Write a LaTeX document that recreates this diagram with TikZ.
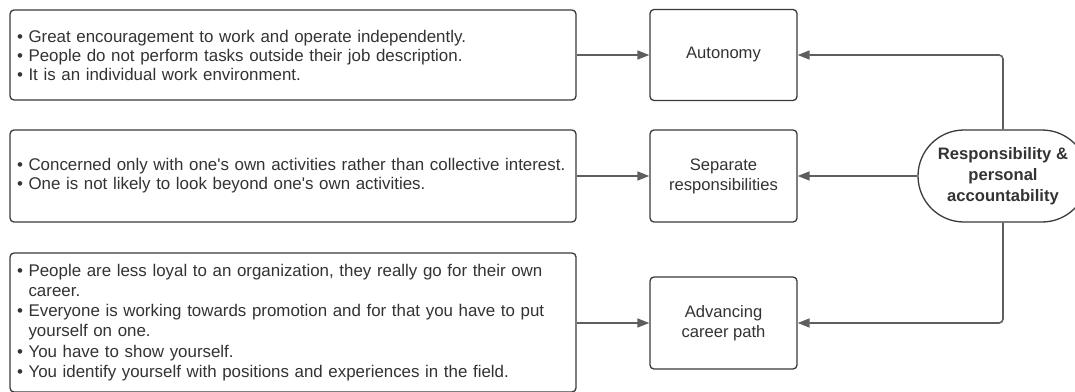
\documentclass[tikz,border=0pt]{standalone}
\usepackage{fontspec}
\setmainfont{Liberation Sans}
\usetikzlibrary{arrows.meta}
\definecolor{edge}{HTML}{3A3A3A}
\definecolor{link}{HTML}{5E5E5E}
\definecolor{ink}{HTML}{333333}
\newcommand\bul{\textbullet\ }
\newcommand\cont{\phantom{\textbullet\ }}
\newcommand\apos{\textquotesingle}
\tikzset{
  notebox/.style={draw=edge, line width=1.3pt, rounded corners=4pt, fill=white,
    minimum width=566pt, text width=552pt, inner xsep=7pt, align=left,
    font=\fontsize{16.9}{19}\selectfont, text=ink},
  topicbox/.style={draw=edge, line width=1.3pt, rounded corners=4pt, fill=white,
    minimum width=147pt, minimum height=91pt, align=center,
    font=\fontsize{16.6}{20}\selectfont, text=ink},
  hub/.style={draw=edge, line width=1.3pt, rounded corners=46pt, fill=white,
    minimum width=170pt, minimum height=92pt, align=center,
    font=\fontsize{16.6}{21}\selectfont\bfseries, text=ink},
  link/.style={draw=link, line width=1.6pt, rounded corners=4pt,
    -{Triangle[length=12pt,width=9pt]}},
}
\begin{document}
\begin{tikzpicture}[x=1pt,y=-1pt]
\useasboundingbox (0,0) rectangle (1075,391);
\clip (0,0) rectangle (1075,391);

% left-hand description boxes
\node[notebox, minimum height=90pt] (d1) at (293,55)
  {\bul Great encouragement to work and operate independently.\\
   \bul People do not perform tasks outside their job description.\\
   \bul It is an individual work environment.};
\node[notebox, minimum height=92pt] (d2) at (293,176)
  {\bul Concerned only with one\apos s own activities rather than collective interest.\\
   \bul One is not likely to look beyond one\apos s own activities.};
\node[notebox, minimum height=139pt, font=\fontsize{16.9}{20.2}\selectfont] (d3) at (293,322.5)
  {\bul People are less loyal to an organization, they really go for their own\\
   \cont career.\\
   \bul Everyone is working towards promotion and for that you have to put\\
   \cont yourself on one.\\
   \bul You have to show yourself.\\
   \bul You identify yourself with positions and experiences in the field.};

% middle topic boxes
\node[topicbox] (auto) at (723.5,55) {Autonomy};
\node[topicbox, minimum height=92pt] (sep) at (723.5,176) {Separate\\responsibilities};
\node[topicbox, minimum height=92pt] (adv) at (723.5,323) {Advancing\\career path};

% central theme
\node[hub] (resp) at (1003,176) {Responsibility \&\\personal\\accountability};

% connectors
\draw[link] (d1.east) -- (auto.west);
\draw[link] (d2.east) -- (sep.west);
\draw[link] (d3.east |- adv.west) -- (adv.west);
\draw[link] (resp.north) |- (auto.east);
\draw[link] (resp.west) -- (sep.east);
\draw[link] (resp.south) |- (adv.east);
\end{tikzpicture}
\end{document}
